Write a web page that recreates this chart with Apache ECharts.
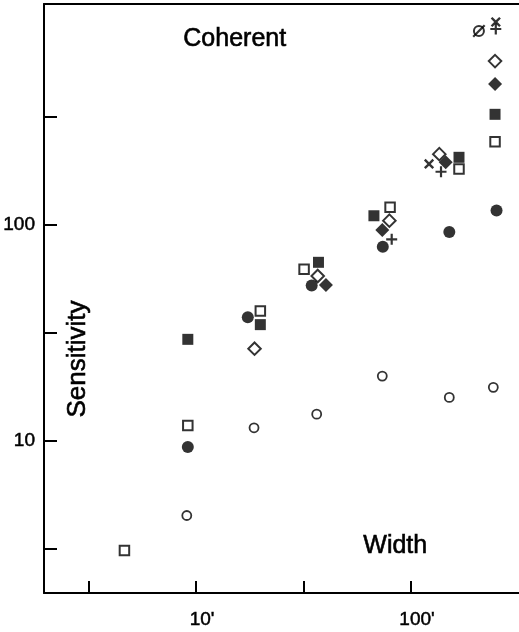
<!DOCTYPE html>
<html><head><meta charset="utf-8">
<script src="https://cdn.jsdelivr.net/npm/echarts@6/dist/echarts.min.js"></script>
<style>html,body{margin:0;padding:0;background:#fff}#c{width:519px;height:632px}</style>
</head><body><div id="c"></div>
<script>
// [width, sensitivity]
const openSquare   = [[4.64,3.11],[9.15,11.8],[19.9,39.9],[31.8,62.2],[79.9,120.4],[167.2,181],[246,242]];
const filledSquare = [[9.15,29.5],[19.9,34.5],[37.1,67],[67.2,110],[167.2,205],[246,324]];
const filledCircle = [[9.15,9.37],[17.4,37.3],[34.5,52.3],[73.9,79.0],[150.7,92.5],[250,116.2]];
const openCircle   = [[9.05,4.52],[18.6,11.5],[36.4,13.3],[73.5,19.95],[150.7,15.9],[241.5,17.7]];
const openDiamond  = [[18.7,26.7],[36.8,57.9],[79.3,104.4],[135.4,212],[246,571]];
const filledDiamond= [[40.2,52.6],[73.5,94.5],[145,194.4],[246,448]];
const plusMark     = [[81.3,85.6],[137.9,175.8],[248,804]];
const crossMark    = [[121.3,191],[248,866]];
const slashedCircle= [[207,787]];

const xTickValues = [3.162, 10, 31.62, 100];
const xLabelValues = [10, 100];
const yTickValues = [3.162, 10, 31.62, 100, 316.2];
const yLabelValues = [10, 100];

const FONT = 'Liberation Sans';
const PLUS = 'path://M4,0H6V4H10V6H6V10H4V6H0V4H4Z';
const SLASH = 'path://M0,8.8L8.8,0L10,1.2L1.2,10Z';

const chart = echarts.init(document.getElementById('c'), null, {renderer:'canvas'});
function ser(data, symbol, size, filled, extra) {
  return Object.assign({
    type:'scatter', data:data, symbol:symbol, symbolSize:size,
    itemStyle: filled ? {color:'#000', borderWidth:0}
                      : {color:'#fff', borderColor:'#000', borderWidth:2},
    emphasis:{disabled:true}, z:3
  }, extra||{});
}
const axisCommon = {
  type:'log', logBase:10,
  splitLine:{show:false}, minorTick:{show:false}, minorSplitLine:{show:false},
  axisLine:{show:true, lineStyle:{color:'#000', width:2}}
};
const labelStyle = {color:'#000', fontSize:19, fontFamily:FONT, textBorderColor:'#000', textBorderWidth:0.5};
chart.setOption({
  animation:false,
  backgroundColor:'#fff',
  grid:{left:44, top:4, right:0, bottom:39, containLabel:false},
  xAxis:[Object.assign({}, axisCommon, {
    min:1.96, max:318, position:'bottom',
    axisTick:{show:true, inside:true, length:12, lineStyle:{color:'#000', width:2}, customValues:xTickValues},
    axisLabel:Object.assign({show:true, customValues:xLabelValues, margin:17, padding:[0,0,0,12],
      formatter:v => Math.round(v) + "'"}, labelStyle)
  }), Object.assign({}, axisCommon, {
    min:1.96, max:318, position:'top',
    axisTick:{show:false}, axisLabel:{show:false}
  })],
  yAxis:[Object.assign({}, axisCommon, {
    min:1.98, max:1049,
    axisTick:{show:true, inside:true, length:13, lineStyle:{color:'#000', width:2}, customValues:yTickValues},
    axisLabel:Object.assign({show:true, customValues:yLabelValues, margin:9,
      formatter:v => String(Math.round(v))}, labelStyle)
  })],
  series:[
    ser(openSquare,'rect',9.5,false),
    ser(filledSquare,'rect',11,true),
    ser(filledCircle,'circle',12,true),
    ser(openCircle,'circle',9,false,{itemStyle:{color:'#fff',borderColor:'#000',borderWidth:1.8}}),
    ser(openDiamond,'diamond',12.5,false),
    ser(filledDiamond,'diamond',14,true),
    ser(plusMark,PLUS,11,true),
    ser(crossMark,PLUS,12,true,{symbolRotate:45}),
    ser(slashedCircle,'circle',10,false),
    ser(slashedCircle,SLASH,13,true,{z:4})
  ],
  graphic:[
    {type:'text', left:183, top:26, style:{text:'Coherent', font:'25px "Liberation Sans"', fill:'#000', stroke:'#000', lineWidth:0.6}},
    {type:'text', left:363, top:533, style:{text:'Width', font:'25px "Liberation Sans"', fill:'#000', stroke:'#000', lineWidth:0.6}},
    {type:'text', x:78, y:359, rotation:Math.PI/2,
      style:{text:'Sensitivity', font:'26px "Liberation Sans"', fill:'#000', stroke:'#000', lineWidth:0.6, align:'center', verticalAlign:'middle'}}
  ]
});
</script></body></html>
